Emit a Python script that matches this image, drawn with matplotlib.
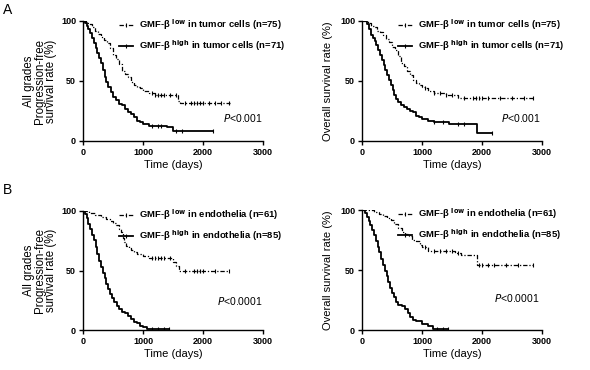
import numpy as np
import matplotlib
matplotlib.use("Agg")
import matplotlib.pyplot as plt
from matplotlib.lines import Line2D

plt.rcParams['font.family'] = ['Liberation Sans', 'DejaVu Sans']

# --- A, progression-free, tumor cells ---
pfs_tum_low_t = [0, 50, 100, 150, 200, 250, 300, 350, 400, 450, 500, 550, 600, 650, 700, 750, 800,
                 850, 900, 950, 1000, 1100, 1200, 1580, 1620, 2450]
pfs_tum_low_s = [100, 98.7, 97.3, 94.7, 92, 89.3, 86.7, 84, 81.3, 77.3, 72, 68, 64, 58.7, 56, 53.3, 49.3,
                 46.7, 45.3, 44, 41.3, 40, 38.7, 33.3, 32, 32]
pfs_tum_low_c = [1150, 1200, 1250, 1300, 1350, 1450, 1550, 1700, 1800, 1850, 1900, 1950, 2000, 2100, 2200, 2300, 2440]
pfs_tum_high_t = [0, 30, 60, 90, 120, 150, 180, 210, 240, 270, 300, 330, 360, 390, 420, 460, 500, 550, 600,
                  650, 700, 750, 800, 850, 900, 950, 1000, 1100, 1400, 1500, 2160]
pfs_tum_high_s = [100, 98.6, 95.8, 93, 90.1, 86, 81.7, 77.5, 73.2, 69, 64.8, 59.2, 53.5, 49.3, 45.1, 40.8,
                  36.6, 33.8, 31, 29.6, 26.8, 23.9, 22.5, 19.7, 16.9, 15.5, 14.1, 12.7, 11.3, 8.5, 8.5]
pfs_tum_high_c = [1150, 1250, 1300, 1550, 1650, 2160]

# --- A, overall, tumor cells ---
os_tum_low_t = [0, 100, 150, 200, 250, 300, 350, 400, 450, 500, 550, 600, 650, 700, 750, 800, 850, 900,
                950, 1000, 1050, 1100, 1200, 1400, 1600, 2860]
os_tum_low_s = [100, 98.7, 96, 94.7, 92, 90.7, 88, 85.3, 82.7, 78.7, 76, 70.7, 65.3, 62.7, 58.7, 54.7, 50.7,
                48, 46.7, 45.3, 44, 41.3, 40, 38.7, 36, 36]
os_tum_low_c = [1050, 1200, 1300, 1400, 1500, 1700, 1850, 1900, 1950, 2000, 2100, 2300, 2500, 2700, 2850]
os_tum_high_t = [0, 90, 120, 150, 180, 210, 240, 270, 300, 330, 360, 390, 420, 450, 480, 510, 540, 570, 600,
                 650, 700, 750, 800, 850, 900, 950, 1000, 1100, 1200, 1450, 1920, 2170]
os_tum_high_s = [100, 97.2, 93, 88.7, 85.9, 83.1, 80.3, 76.1, 71.8, 67.6, 63.4, 59.2, 54.9, 50.7, 46.5, 42.3,
                 38, 35.2, 32.4, 29.6, 28.2, 26.8, 25.4, 23.9, 21.1, 19.7, 18.3, 16.9, 15.5, 14.1, 7, 7]
os_tum_high_c = [1200, 1350, 1600, 1700, 2170]

# --- B, progression-free, endothelia ---
pfs_end_low_t = [0, 100, 200, 300, 380, 450, 500, 550, 600, 630, 660, 690, 720, 760, 800, 850, 900, 1000,
                 1100, 1500, 1550, 1600, 2440]
pfs_end_low_s = [100, 98.4, 96.7, 95.1, 93.4, 91.8, 90.2, 88.5, 85.2, 82, 77, 73.8, 70.5, 68.9, 67.2, 65.6,
                 63.9, 62.3, 60.7, 57.4, 54.1, 49.2, 49.2]
pfs_end_low_c = [1150, 1200, 1250, 1300, 1350, 1450, 1700, 1850, 1900, 1950, 2000, 2200, 2440]
pfs_end_high_t = [0, 30, 60, 90, 120, 150, 180, 210, 240, 270, 300, 330, 360, 390, 420, 450, 480, 520, 560,
                  600, 650, 700, 750, 800, 850, 900, 950, 1000, 1060, 1430]
pfs_end_high_s = [100, 97.6, 94.1, 89.4, 84.7, 80, 75.3, 69.4, 63.5, 57.6, 52.9, 48.2, 43.5, 38.8, 34.1, 30.6,
                  27.1, 23.5, 20, 17.6, 15.3, 14.1, 11.8, 9.4, 7.1, 5.9, 3.5, 2.4, 1.2, 1.2]
pfs_end_high_c = [1150, 1250, 1350, 1430]

# --- B, overall, endothelia ---
os_end_low_t = [0, 200, 280, 350, 420, 480, 540, 600, 660, 720, 780, 840, 900, 960, 1000, 1100, 1550, 1650,
                1920, 2850]
os_end_low_s = [100, 98.4, 96.7, 95.1, 93.4, 91.8, 88.5, 85.2, 82, 80.3, 78.7, 75.4, 73.8, 70.5, 68.9, 65.6,
                63.9, 62.3, 54.1, 54.1]
os_end_low_c = [1050, 1200, 1300, 1400, 1500, 1600, 1950, 2000, 2100, 2200, 2400, 2600, 2850]
os_end_high_t = [0, 50, 80, 110, 140, 170, 200, 230, 260, 290, 320, 350, 380, 410, 440, 470, 500, 530, 560,
                 600, 660, 720, 760, 800, 850, 900, 1000, 1100, 1180, 1440]
os_end_high_s = [100, 97.6, 94.1, 90.6, 87.1, 83.5, 78.8, 74.1, 69.4, 64.7, 58.8, 54.1, 49.4, 44.7, 40, 35.3,
                 30.6, 27.1, 23.5, 21.2, 20, 17.6, 14.1, 10.6, 8.2, 7.1, 4.7, 3.5, 1.2, 1.2]
os_end_high_c = [1250, 1350, 1440]

tum_labels = ['GMF-β $^{\\mathbf{low}}$ in tumor cells (n=75)', 'GMF-β $^{\\mathbf{high}}$ in tumor cells (n=71)']
end_labels = ['GMF-β $^{\\mathbf{low}}$ in endothelia (n=61)', 'GMF-β $^{\\mathbf{high}}$ in endothelia (n=85)']
pfs_ylabel = 'All grades\nProgression-free\nsurvival rate (%)'
os_ylabel = 'Overall survival rate (%)'

low_ls = (0, (3.5, 1.5, 1, 1.5))


def km(ax, t, s, cens, ls, lw):
    t = np.array(t)
    s = np.array(s)
    ax.plot(t, s, drawstyle='steps-post', color='k', ls=ls, lw=lw)
    idx = np.searchsorted(t, cens, side='right') - 1
    ax.plot(cens, s[idx], ls='none', marker='|', color='k', ms=3, mew=0.8)


def panel(rect, low, high, labels, ylabel, ysize, ypad, ptxt, pxy):
    ax = fig.add_axes(rect)
    km(ax, *low, ls=low_ls, lw=0.9)
    km(ax, *high, ls='-', lw=1.3)
    ax.set_xlim(0, 3000)
    ax.set_ylim(0, 100)
    ax.set_xticks([0, 1000, 2000, 3000])
    ax.set_yticks([0, 50, 100])
    for sp in ['top', 'right']:
        ax.spines[sp].set_visible(False)
    for sp in ['left', 'bottom']:
        ax.spines[sp].set_linewidth(1.0)
    ax.tick_params(direction='out', length=3, width=1.0, labelsize=6.5, pad=2)
    for lb in ax.get_xticklabels() + ax.get_yticklabels():
        lb.set_fontweight('bold')
    ax.set_xlabel('Time (days)', fontsize=8, labelpad=2)
    ax.set_ylabel(ylabel, fontsize=ysize, labelpad=ypad, linespacing=0.92)
    handles = [Line2D([], [], color='k', ls=low_ls, lw=0.9, marker='|', ms=3, mew=0.8),
               Line2D([], [], color='k', ls='-', lw=1.3, marker='|', ms=3, mew=0.8)]
    ax.legend(handles, labels, loc='upper left', bbox_to_anchor=(0.18, 1.06), frameon=False,
              prop={'size': 6.8, 'weight': 'bold'}, handlelength=1.5, handletextpad=0.65,
              labelspacing=0.65, borderaxespad=0, numpoints=1)
    ax.text(pxy[0], pxy[1], ptxt, fontsize=7.5, ha='center', va='center')
    return ax


fig = plt.figure(figsize=(5.9, 3.7), dpi=100)

panel([83 / 590, 1 - 141 / 370, 180 / 590, 120 / 370], (pfs_tum_low_t, pfs_tum_low_s, pfs_tum_low_c),
      (pfs_tum_high_t, pfs_tum_high_s, pfs_tum_high_c), tum_labels, pfs_ylabel, 8.3, 2.5, '$P$<0.001', (2670, 19))
panel([362 / 590, 1 - 141 / 370, 180 / 590, 120 / 370], (os_tum_low_t, os_tum_low_s, os_tum_low_c),
      (os_tum_high_t, os_tum_high_s, os_tum_high_c), tum_labels, os_ylabel, 8, 5, '$P$<0.001', (2650, 19))
panel([83 / 590, 1 - 330 / 370, 180 / 590, 119 / 370], (pfs_end_low_t, pfs_end_low_s, pfs_end_low_c),
      (pfs_end_high_t, pfs_end_high_s, pfs_end_high_c), end_labels, pfs_ylabel, 8.3, 2.5, '$P$<0.0001', (2620, 24))
panel([362 / 590, 1 - 330 / 370, 180 / 590, 120 / 370], (os_end_low_t, os_end_low_s, os_end_low_c),
      (os_end_high_t, os_end_high_s, os_end_high_c), end_labels, os_ylabel, 8, 5, '$P$<0.0001', (2580, 27))

fig.text(3 / 590, 1 - 10 / 370, 'A', fontsize=10, va='center')
fig.text(3 / 590, 1 - 190 / 370, 'B', fontsize=10, va='center')

fig.savefig('out.png', dpi=100)
